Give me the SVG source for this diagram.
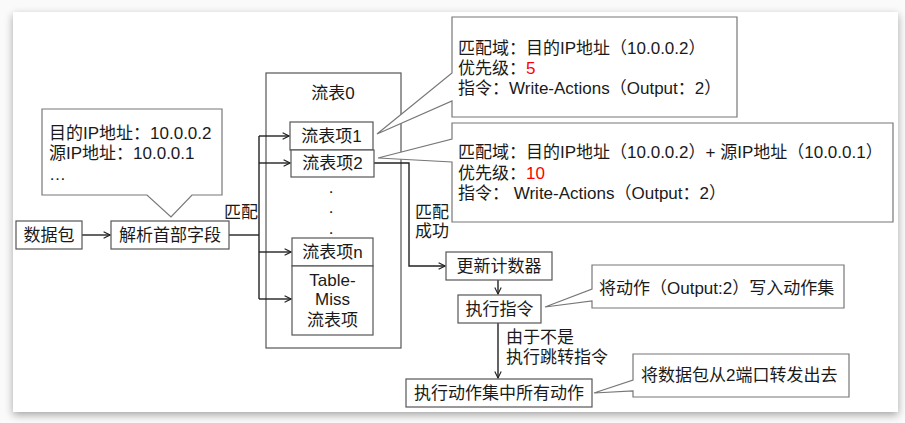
<svg xmlns="http://www.w3.org/2000/svg" width="905" height="423" viewBox="0 0 905 423">
  <defs>
    <filter id="shadow" x="-5%" y="-5%" width="110%" height="115%">
      <feGaussianBlur in="SourceAlpha" stdDeviation="4"/>
      <feOffset dx="0" dy="3" result="b"/>
      <feComponentTransfer><feFuncA type="linear" slope="0.35"/></feComponentTransfer>
      <feMerge><feMergeNode/><feMergeNode in="SourceGraphic"/></feMerge>
    </filter>
    <marker id="arrow" viewBox="0 0 10 10" refX="9" refY="5" markerWidth="8" markerHeight="8" markerUnits="userSpaceOnUse" orient="auto">
      <path d="M1,1 L9,5 L1,9" fill="none" stroke="#222" stroke-width="1.4"/>
    </marker>
  </defs>
  <style>
    text { font-family: "Liberation Sans", "Noto Sans CJK SC", sans-serif; font-size: 17px; fill: #1a1a1a; }
    .c { text-anchor: middle; }
    .box { fill: #fff; stroke: #555; stroke-width: 1.2; }
    .callout { fill: #fff; stroke: #777; stroke-width: 1.2; }
    .conn { fill: none; stroke: #222; stroke-width: 1.4; }
    .red { fill: #ff0000; }
  </style>
  <rect x="0" y="0" width="905" height="423" fill="#fafafa"/>
  <rect x="13" y="12" width="885" height="400" fill="#fff" filter="url(#shadow)"/>

  <g id="table0">
    <rect class="box" x="266" y="73" width="135" height="275"/>
    <text class="c" x="333" y="99">流表0</text>
  </g>

  <g id="connectors">
    <line class="conn" x1="82" y1="235" x2="110" y2="235" marker-end="url(#arrow)"/>
    <polyline class="conn" points="229,235 259,235"/>
    <line class="conn" x1="259" y1="136" x2="259" y2="299"/>
    <line class="conn" x1="259" y1="136" x2="289" y2="136" marker-end="url(#arrow)"/>
    <line class="conn" x1="259" y1="163" x2="290" y2="163" marker-end="url(#arrow)"/>
    <line class="conn" x1="259" y1="252" x2="291" y2="252" marker-end="url(#arrow)"/>
    <line class="conn" x1="259" y1="299" x2="291" y2="299" marker-end="url(#arrow)"/>
    <polyline class="conn" points="374,163 409,163 409,266 445,266" marker-end="url(#arrow)"/>
    <line class="conn" x1="498" y1="280" x2="498" y2="294" marker-end="url(#arrow)"/>
    <line class="conn" x1="498" y1="323" x2="498" y2="378" marker-end="url(#arrow)"/>
    <text class="c" x="241" y="218">匹配</text>
    <text x="415" y="218">匹配</text>
    <text x="415" y="237">成功</text>
    <text x="506" y="343">由于不是</text>
    <text x="506" y="363">执行跳转指令</text>
  </g>

  <g id="packet">
    <rect class="box" x="16" y="221" width="66" height="28"/>
    <text class="c" x="49" y="241">数据包</text>
  </g>

  <g id="parse">
    <rect class="box" x="111" y="221" width="118" height="28"/>
    <text class="c" x="170" y="241">解析首部字段</text>
  </g>

  <g id="packet-info">
    <path class="callout" d="M42,109 H222 V195 H192 L171,217 L147,195 H42 Z"/>
    <text x="49" y="139">目的IP地址：10.0.0.2</text>
    <text x="49" y="159">源IP地址：10.0.0.1</text>
    <text x="49" y="180">…</text>
  </g>

  <g id="entry1">
    <rect class="box" x="290" y="122" width="83" height="28"/>
    <text class="c" x="331.5" y="142">流表项1</text>
  </g>

  <g id="entry2">
    <rect class="box" x="291" y="150" width="83" height="27"/>
    <text class="c" x="332.5" y="169">流表项2</text>
  </g>

  <g id="dots">
    <text class="c" x="331" y="193">.</text>
    <text class="c" x="331" y="213">.</text>
    <text class="c" x="331" y="234">.</text>
  </g>

  <g id="entryn">
    <rect class="box" x="292" y="238" width="81" height="28"/>
    <text class="c" x="332.5" y="258">流表项n</text>
  </g>

  <g id="tablemiss">
    <rect class="box" x="292" y="266" width="81" height="69"/>
    <text class="c" x="332.5" y="286">Table-</text>
    <text class="c" x="332.5" y="305">Miss</text>
    <text class="c" x="332.5" y="326">流表项</text>
  </g>

  <g id="entry1-info">
    <path class="callout" d="M452,17 H737 V117 H452 V101 L377,134 L452,73 Z"/>
    <text x="458" y="54">匹配域：目的IP地址（10.0.0.2）</text>
    <text x="458" y="74">优先级：<tspan class="red">5</tspan></text>
    <text x="458" y="94">指令：Write-Actions（Output：2）</text>
  </g>

  <g id="entry2-info">
    <path class="callout" d="M452,123 H893 V222 H452 V162 L378,158 L452,139 Z"/>
    <text x="458" y="158">匹配域：目的IP地址（10.0.0.2）+ 源IP地址（10.0.0.1）</text>
    <text x="458" y="179">优先级：<tspan class="red">10</tspan></text>
    <text x="458" y="199">指令： Write-Actions（Output：2）</text>
  </g>

  <g id="update-counter">
    <rect class="box" x="446" y="252" width="106" height="28"/>
    <text class="c" x="499" y="272">更新计数器</text>
  </g>

  <g id="exec-instr">
    <rect class="box" x="458" y="295" width="83" height="28"/>
    <text class="c" x="499.5" y="315">执行指令</text>
  </g>

  <g id="exec-instr-note">
    <path class="callout" d="M592,265 H844 V308 H592 V301 L545,307 L592,289 Z"/>
    <text x="599" y="294">将动作（Output:2）写入动作集</text>
  </g>

  <g id="exec-actions">
    <rect class="box" x="406" y="379" width="186" height="28"/>
    <text class="c" x="499" y="399">执行动作集中所有动作</text>
  </g>

  <g id="exec-actions-note">
    <path class="callout" d="M633,354 H849 V397 H633 V391 L594,393 L633,380 Z"/>
    <text x="641" y="381">将数据包从2端口转发出去</text>
  </g>
</svg>
